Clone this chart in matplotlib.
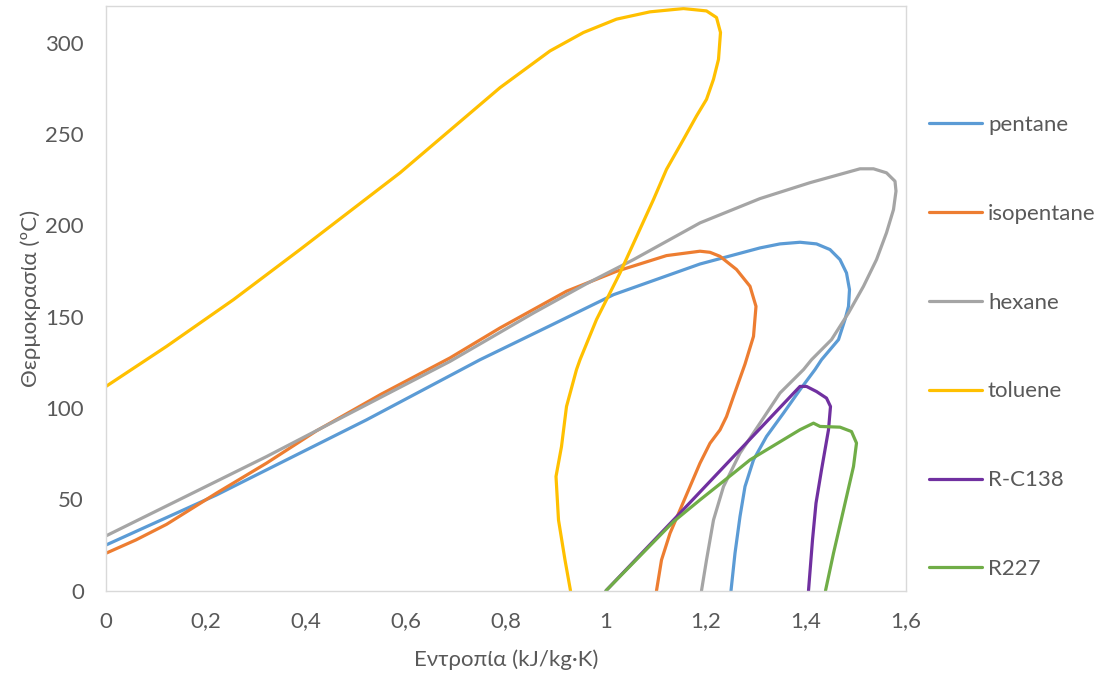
import matplotlib
matplotlib.use("Agg")
import matplotlib.pyplot as plt

# entropy s (kJ/kg·K) and temperature T (°C)
pentane_s = [0.000, 0.221, 0.388, 0.521, 0.688, 0.748, 0.888, 1.015, 1.188, 1.308,
             1.348, 1.388, 1.421, 1.448, 1.468, 1.481, 1.487, 1.485, 1.478, 1.465,
             1.431, 1.418, 1.388, 1.355, 1.321, 1.295, 1.278, 1.268, 1.258, 1.250]
pentane_T = [25.0, 52.4, 75.3, 93.5, 117.7, 126.4, 145.0, 162.0, 178.8, 187.6,
             189.8, 190.7, 189.8, 186.7, 181.2, 173.9, 164.8, 155.6, 148.4, 137.4,
             126.4, 121.0, 110.0, 97.2, 84.4, 71.6, 57.0, 40.6, 20.5, 0.0]

isopentane_s = [0.000, 0.060, 0.121, 0.221, 0.321, 0.421, 0.550, 0.688, 0.788, 0.921,
                1.021, 1.121, 1.188, 1.208, 1.228, 1.261, 1.288, 1.300, 1.295, 1.278,
                1.255, 1.241, 1.228, 1.208, 1.188, 1.168, 1.148, 1.128, 1.111, 1.101]
isopentane_T = [20.5, 27.8, 36.3, 53.4, 69.8, 87.5, 107.5, 127.4, 143.8, 163.9,
                174.8, 183.4, 185.8, 185.2, 183.0, 175.8, 166.6, 155.6, 139.2, 124.0,
                106.3, 95.3, 88.0, 80.7, 69.8, 57.0, 44.2, 31.4, 16.8, 0.0]

hexane_s = [0.000, 0.321, 0.688, 0.855, 0.961, 1.055, 1.188, 1.308, 1.408, 1.508,
            1.535, 1.561, 1.578, 1.580, 1.575, 1.561, 1.541, 1.515, 1.485, 1.451,
            1.411, 1.395, 1.348, 1.308, 1.268, 1.235, 1.215, 1.201, 1.191]
hexane_T = [30.0, 73.4, 125.5, 152.0, 168.0, 181.2, 201.3, 214.6, 223.3, 230.9,
            230.9, 228.7, 224.1, 218.7, 208.6, 195.9, 181.2, 166.6, 152.0, 137.4,
            126.4, 121.0, 108.2, 91.7, 75.3, 57.0, 38.7, 16.8, 0.0]

toluene_s = [0.000, 0.121, 0.255, 0.388, 0.588, 0.788, 0.888, 0.955, 1.021, 1.088,
             1.155, 1.201, 1.221, 1.229, 1.225, 1.215, 1.201, 1.181, 1.155, 1.121,
             1.095, 1.028, 0.981, 0.948, 0.941, 0.921, 0.911, 0.900, 0.905, 0.918,
             0.929]
toluene_T = [111.8, 133.7, 159.3, 186.7, 228.7, 275.3, 295.4, 305.5, 312.8, 316.8,
             318.6, 317.3, 313.7, 305.5, 290.8, 279.9, 268.9, 259.8, 247.0, 230.6,
             214.1, 173.9, 148.4, 126.4, 121.0, 100.8, 78.9, 62.5, 38.7, 16.8,
             0.0]

rc138_s = [1.000, 1.135, 1.255, 1.388, 1.401, 1.421, 1.441, 1.449, 1.445, 1.431,
           1.420, 1.413, 1.405]
rc138_T = [0.0, 38.7, 73.4, 111.8, 111.8, 109.0, 105.4, 100.8, 88.1, 66.1,
           47.9, 27.8, 0.0]

r227_s = [1.000, 1.135, 1.188, 1.255, 1.288, 1.388, 1.415, 1.428, 1.468, 1.491,
          1.501, 1.495, 1.475, 1.455, 1.439]
r227_T = [0.0, 37.8, 49.7, 64.3, 71.6, 88.1, 91.7, 89.9, 89.5, 87.1,
          80.8, 68.0, 44.2, 20.5, 0.0]

labels = ["pentane", "isopentane", "hexane", "toluene", "R-C138", "R227"]
colors = ["#5B9BD5", "#ED7D31", "#A5A5A5", "#FFC000", "#7030A0", "#70AD47"]
series = [(pentane_s, pentane_T), (isopentane_s, isopentane_T), (hexane_s, hexane_T),
          (toluene_s, toluene_T), (rc138_s, rc138_T), (r227_s, r227_T)]

x_ticks = [0, 0.2, 0.4, 0.6, 0.8, 1.0, 1.2, 1.4, 1.6]
x_ticklabels = ["0", "0,2", "0,4", "0,6", "0,8", "1", "1,2", "1,4", "1,6"]
y_ticks = [0, 50, 100, 150, 200, 250, 300]

plt.rcParams["font.family"] = ["Lato", "DejaVu Sans"]
text_col = "#595959"
fs = 16

fig = plt.figure(figsize=(11.04, 6.79), dpi=100)
ax = fig.add_axes([106 / 1104, 1 - 590.7 / 679, 800 / 1104, 584.7 / 679])

for (s, T), lab, c in zip(series, labels, colors):
    ax.plot(s, T, color=c, lw=2.3, label=lab, solid_joinstyle="round",
            solid_capstyle="round")

ax.set_xlim(0, 1.6)
ax.set_ylim(0, 320)
ax.set_xticks(x_ticks)
ax.set_xticklabels(x_ticklabels)
ax.set_yticks(y_ticks)
ax.tick_params(length=0, labelsize=fs, labelcolor=text_col)
ax.tick_params(axis="x", pad=15)
ax.tick_params(axis="y", pad=16)
for sp in ax.spines.values():
    sp.set_color("#D9D9D9")
    sp.set_linewidth(1.0)

ax.set_xlabel("Εντροπία (kJ/kg·K)", fontsize=fs, color=text_col, labelpad=13)
ax.set_ylabel("Θερμοκρασία (ºC)", fontsize=fs, color=text_col, labelpad=3)

fig.legend(loc="center left", bbox_to_anchor=(929 / 1104, 1 - 347 / 679),
           frameon=False, fontsize=fs, labelcolor=text_col, handlelength=2.4,
           handletextpad=0.25, labelspacing=3.1, borderpad=0, borderaxespad=0)

fig.savefig("out.png", dpi=100)
